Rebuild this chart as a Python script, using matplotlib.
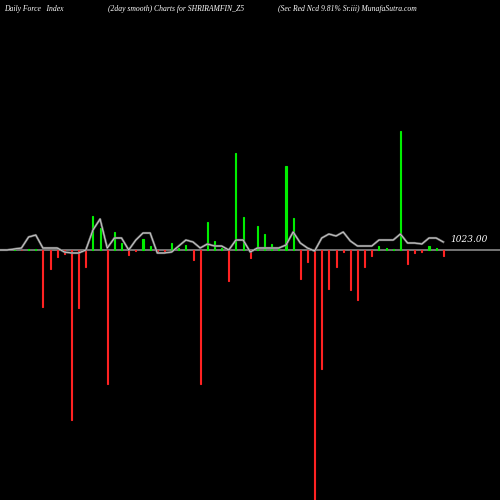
import matplotlib
matplotlib.use("Agg")
import matplotlib.pyplot as plt
import numpy as np

# bar values (force index), starting at index 2
bars = [1.5, 0, 1.5, 1, -57, -19, -7, -4, -170, -58, -17, 34, 22, -134, 18, 7, -5, -1, 11, 4,
        -1, -1, 7, 2, 5, -10, -134, 28, 9, 2, -31, 97, 33, -8, 24, 16, 6, 2, 84, 32,
        -29, -12, -250, -119, -39, -17, -2, -40, -50, -17, -6, 4, 2, 1, 119, -14, -3, -2, 4, 2, -6]
# smoothed line, starting at index 0
smooth = [0, 0, 1, 2, 13, 15, 2, 2, 2, -2, -3, -3, 0, 20, 31, 2, 12, 12, 0, 10, 17, 17, -3, -3,
          -2, 4, 10, 8, 2, 6, 4, 4, 0, 10, 10, -2, 2, 2, 2, 2, 5, 18, 7, 2, -1, 12, 16, 14, 18,
          9, 4, 4, 4, 10, 10, 10, 16, 7, 7, 6, 12, 12, 8]
last_label = "1023.00"

step = 7.15
fig = plt.figure(figsize=(5, 5), dpi=100, facecolor="black")
ax = fig.add_axes([0, 0, 1, 1], facecolor="black")
ax.set_xlim(0, 500 / step)
ax.set_ylim(-250, 250)
ax.axis("off")

ax.axhline(0, color="#888888", lw=1.2, zorder=1)
xb = np.arange(len(bars)) + 2
cols = ["#00ee00" if v > 0 else "#ff2222" for v in bars]
ax.bar(xb, bars, width=0.15, color=cols, edgecolor=cols, linewidth=0.8, zorder=2)
xs = np.arange(len(smooth))
ax.plot(xs, smooth, color="#777777", lw=1.6, zorder=3)
ax.plot(xs, smooth, color="#eeeeee", lw=0.4, zorder=4)
ax.text(450 / step, 10, last_label, color="white", fontsize=6.5, style="italic",
        family="DejaVu Serif", va="center")

tk = dict(color="white", fontsize=5.5, style="italic", family="Liberation Serif", va="top")
fig.text(0.008, 0.99, "Daily Force   Index", **tk)
fig.text(0.215, 0.99, "(2day smooth) Charts for SHRIRAMFIN_Z5", **tk)
fig.text(0.555, 0.99, "(Sec Red Ncd 9.81% Sr.iii) MunafaSutra.com", **tk)
fig.savefig("out.png", dpi=100, facecolor="black")
